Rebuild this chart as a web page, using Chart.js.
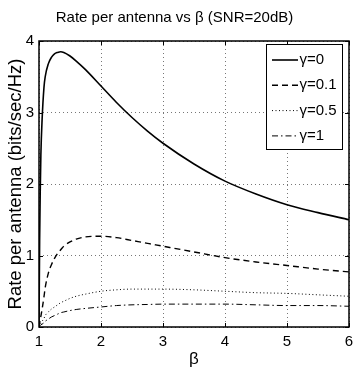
<!DOCTYPE html>
<html>
<head>
<meta charset="utf-8">
<script src="https://cdn.jsdelivr.net/npm/chart.js@4/dist/chart.umd.min.js"></script>
<style>
  html, body { margin: 0; padding: 0; background: #fff; }
  #wrap { width: 353px; height: 372px; }
</style>
</head>
<body>
<div id="wrap"><canvas id="c" width="353" height="372"></canvas></div>
<script>
// ---- data ----
const beta = [1, 1.01, 1.02, 1.03, 1.05, 1.08, 1.1, 1.15, 1.2, 1.25, 1.3, 1.35, 1.4, 1.5, 1.6, 1.75, 2, 2.25, 2.5, 2.75, 3, 3.5, 4, 4.5, 5, 5.5, 6];
const rateGamma0   = [0, 1.2, 1.9, 2.4, 2.9, 3.35, 3.5, 3.68, 3.77, 3.82, 3.84, 3.85, 3.84, 3.79, 3.72, 3.6, 3.37, 3.14, 2.93, 2.74, 2.57, 2.28, 2.04, 1.86, 1.71, 1.6, 1.5];
const rateGamma01  = [0, 0.05, 0.1, 0.15, 0.25, 0.42, 0.55, 0.75, 0.87, 0.96, 1.03, 1.08, 1.13, 1.19, 1.23, 1.26, 1.27, 1.25, 1.21, 1.17, 1.13, 1.05, 0.97, 0.91, 0.86, 0.81, 0.77];
const rateGamma05  = [0, 0.02, 0.04, 0.05, 0.08, 0.12, 0.16, 0.21, 0.25, 0.28, 0.31, 0.34, 0.36, 0.4, 0.43, 0.46, 0.5, 0.52, 0.53, 0.53, 0.53, 0.52, 0.5, 0.48, 0.47, 0.45, 0.43];
const rateGamma1   = [0, 0.01, 0.02, 0.03, 0.04, 0.06, 0.08, 0.11, 0.14, 0.16, 0.18, 0.2, 0.21, 0.23, 0.245, 0.26, 0.28, 0.3, 0.31, 0.315, 0.32, 0.32, 0.32, 0.31, 0.3, 0.3, 0.29];
const seriesLabels = ['\u03b3=0', '\u03b3=0.1', '\u03b3=0.5', '\u03b3=1'];
const xTicks = [1, 2, 3, 4, 5, 6];
const yTicks = [0, 1, 2, 3, 4];
const titleText = 'Rate per antenna vs \u03b2 (SNR=20dB)';
const xTitle = '\u03b2';
const yTitle = 'Rate per antenna (bits/sec/Hz)';

const FONT = '"Liberation Sans", Arial, Helvetica, sans-serif';

function pts(ys) { return beta.map((b, i) => ({ x: b, y: ys[i] })); }

const styles = [
  { borderWidth: 1.6, borderDash: [] },
  { borderWidth: 1.4, borderDash: [6, 4] },
  { borderWidth: 1.0, borderDash: [1, 2.5] },
  { borderWidth: 1.0, borderDash: [6, 3, 1.5, 3] }
];
const allSeries = [rateGamma0, rateGamma01, rateGamma05, rateGamma1];

const datasets = allSeries.map((s, i) => ({
  label: seriesLabels[i],
  data: pts(s),
  borderColor: '#000',
  backgroundColor: '#000',
  borderWidth: styles[i].borderWidth,
  borderDash: styles[i].borderDash,
  pointRadius: 0,
  fill: false,
  cubicInterpolationMode: 'monotone'
}));

const framePlugin = {
  id: 'frame',
  afterDatasetsDraw(chart) {
    const { ctx, chartArea: a, scales } = chart;
    ctx.save();
    ctx.strokeStyle = '#000';
    ctx.lineWidth = 1;
    ctx.setLineDash([]);
    const tl = 4;
    xTicks.forEach(v => {
      const px = Math.round(scales.x.getPixelForValue(v)) + 0.5;
      ctx.beginPath();
      ctx.moveTo(px, a.bottom); ctx.lineTo(px, a.bottom - tl);
      ctx.moveTo(px, a.top); ctx.lineTo(px, a.top + tl);
      ctx.stroke();
    });
    yTicks.forEach(v => {
      const py = Math.round(scales.y.getPixelForValue(v)) + 0.5;
      ctx.beginPath();
      ctx.moveTo(a.left, py); ctx.lineTo(a.left + tl, py);
      ctx.moveTo(a.right, py); ctx.lineTo(a.right - tl, py);
      ctx.stroke();
    });
    ctx.lineWidth = 1.5;
    ctx.strokeRect(a.left, a.top, a.right - a.left, a.bottom - a.top);

    // legend box
    const lx = a.right - 83, ly = a.top + 3, lw = 76, lh = 105;
    ctx.fillStyle = '#fff';
    ctx.fillRect(lx, ly, lw, lh);
    ctx.lineWidth = 1;
    ctx.strokeRect(lx + 0.5, ly + 0.5, lw, lh);
    ctx.font = '15px ' + FONT;
    ctx.textBaseline = 'middle';
    ctx.textAlign = 'left';
    chart.data.datasets.forEach((ds, i) => {
      const y = ly + 16 + i * 25.3;
      ctx.beginPath();
      ctx.strokeStyle = ds.borderColor;
      ctx.lineWidth = ds.borderWidth;
      ctx.setLineDash(ds.borderDash || []);
      ctx.moveTo(lx + 6, y); ctx.lineTo(lx + 32, y);
      ctx.stroke();
      ctx.setLineDash([]);
      ctx.fillStyle = '#000';
      ctx.fillText(ds.label, lx + 33.5, y);
    });
    ctx.restore();
  }
};

new Chart(document.getElementById('c'), {
  type: 'line',
  data: { datasets },
  plugins: [framePlugin],
  options: {
    responsive: false,
    devicePixelRatio: 1,
    animation: false,
    layout: { padding: { left: 0, right: 4, top: 0, bottom: 0 } },
    plugins: {
      legend: { display: false },
      tooltip: { enabled: false },
      title: {
        display: true,
        text: titleText,
        color: '#000',
        font: { family: FONT, size: 15, weight: 'normal' },
        padding: { top: 9, bottom: 14 }
      }
    },
    scales: {
      x: {
        type: 'linear',
        min: 1, max: 6,
        afterFit(s) { s.height = 45; s.paddingLeft = 0; s.paddingRight = 0; },
        afterBuildTicks(s) { s.ticks = xTicks.map(v => ({ value: v })); },
        ticks: { color: '#000', font: { family: FONT, size: 15 }, padding: 6, maxRotation: 0 },
        grid: { color: '#777', lineWidth: 1, drawTicks: false },
        border: { display: false, dash: [1, 3] },
        title: { display: true, text: xTitle, color: '#000', font: { family: FONT, size: 17 }, padding: { top: 0, bottom: 2 } }
      },
      y: {
        type: 'linear',
        min: 0, max: 4,
        afterFit(s) { s.width = 39; s.paddingTop = 0; s.paddingBottom = 0; },
        afterBuildTicks(s) { s.ticks = yTicks.map(v => ({ value: v })); },
        ticks: { color: '#000', font: { family: FONT, size: 15 }, padding: 5 },
        grid: { color: '#777', lineWidth: 1, drawTicks: false },
        border: { display: false, dash: [1, 3] },
        title: { display: true, text: yTitle, color: '#000', font: { family: FONT, size: 18.5 }, padding: { top: 5, bottom: 0 } }
      }
    }
  }
});
</script>
</body>
</html>
